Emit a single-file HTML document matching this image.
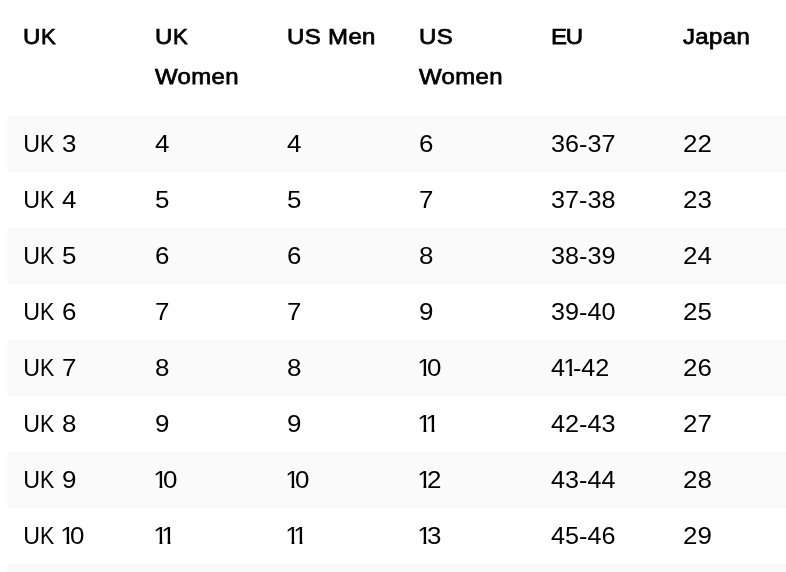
<!DOCTYPE html>
<html><head><meta charset="utf-8">
<style>
html,body{margin:0;padding:0;background:#fff;}
body{width:786px;height:572px;overflow:hidden;position:relative;font-family:"Liberation Sans",sans-serif;color:#000;}
table{position:absolute;left:7px;top:0;border-collapse:collapse;table-layout:fixed;width:792px;will-change:transform;}
th,td{width:132px;box-sizing:border-box;padding:8px 0 8px 16px;text-align:left;vertical-align:top;font-size:23.25px;line-height:40px;font-weight:400;white-space:nowrap;}
th{font-size:22.6px;-webkit-text-stroke:0.75px #000;letter-spacing:0.33px;padding-top:17px;padding-bottom:19px;}
tbody tr:nth-child(odd){background:#fafafa;}
.h{display:inline-block;transform:scaleX(1.062);transform-origin:0 50%;}
.t{letter-spacing:-1.1px;}
.n{display:inline-block;transform:scaleX(1.115);transform-origin:0 50%;}
.n.e{transform:scaleX(1.084);}
b{font-weight:inherit;display:inline-block;transform:scaleX(0.92);transform-origin:0 50%;}
.u{margin-left:0.2px;letter-spacing:0.2px;}
.u + .n{margin-left:-0.35px;}
i{font-style:normal;display:inline-block;margin-left:-1.55px;margin-right:-4.15px;clip-path:polygon(0 0,100% 0,100% 25.7px,8.15px 25.7px,8.15px 100%,5.6px 100%,5.6px 25.7px,0 25.7px);}
</style></head><body>
<table>
<thead><tr><th><span class="h">U<b>K</b></span></th><th><span class="h">U<b>K</b></span><br><span class="h">Women</span></th><th><span class="h">US Men</span></th><th><span class="h">US</span><br><span class="h">Women</span></th><th><span class="h"><span class="t">E</span>U</span></th><th><span class="h">Japan</span></th></tr></thead>
<tbody>
<tr><td><span class="u">U<b>K</b></span> <span class="n">3</span></td><td><span class="n">4</span></td><td><span class="n">4</span></td><td><span class="n">6</span></td><td><span class="n e">36-37</span></td><td><span class="n">22</span></td></tr>
<tr><td><span class="u">U<b>K</b></span> <span class="n">4</span></td><td><span class="n">5</span></td><td><span class="n">5</span></td><td><span class="n">7</span></td><td><span class="n e">37-38</span></td><td><span class="n">23</span></td></tr>
<tr><td><span class="u">U<b>K</b></span> <span class="n">5</span></td><td><span class="n">6</span></td><td><span class="n">6</span></td><td><span class="n">8</span></td><td><span class="n e">38-39</span></td><td><span class="n">24</span></td></tr>
<tr><td><span class="u">U<b>K</b></span> <span class="n">6</span></td><td><span class="n">7</span></td><td><span class="n">7</span></td><td><span class="n">9</span></td><td><span class="n e">39-40</span></td><td><span class="n">25</span></td></tr>
<tr><td><span class="u">U<b>K</b></span> <span class="n">7</span></td><td><span class="n">8</span></td><td><span class="n">8</span></td><td><span class="n"><i>1</i>0</span></td><td><span class="n e">4<i>1</i>-42</span></td><td><span class="n">26</span></td></tr>
<tr><td><span class="u">U<b>K</b></span> <span class="n">8</span></td><td><span class="n">9</span></td><td><span class="n">9</span></td><td><span class="n"><i>1</i><i>1</i></span></td><td><span class="n e">42-43</span></td><td><span class="n">27</span></td></tr>
<tr><td><span class="u">U<b>K</b></span> <span class="n">9</span></td><td><span class="n"><i>1</i>0</span></td><td><span class="n"><i>1</i>0</span></td><td><span class="n"><i>1</i>2</span></td><td><span class="n e">43-44</span></td><td><span class="n">28</span></td></tr>
<tr><td><span class="u">U<b>K</b></span> <span class="n"><i>1</i>0</span></td><td><span class="n"><i>1</i><i>1</i></span></td><td><span class="n"><i>1</i><i>1</i></span></td><td><span class="n"><i>1</i>3</span></td><td><span class="n e">45-46</span></td><td><span class="n">29</span></td></tr>
<tr><td><span class="u">U<b>K</b></span> <span class="n"><i>1</i><i>1</i></span></td><td><span class="n"><i>1</i>2</span></td><td><span class="n"><i>1</i>2</span></td><td><span class="n"><i>1</i>4</span></td><td><span class="n e">46-47</span></td><td><span class="n">30</span></td></tr>
</tbody></table>
</body></html>
